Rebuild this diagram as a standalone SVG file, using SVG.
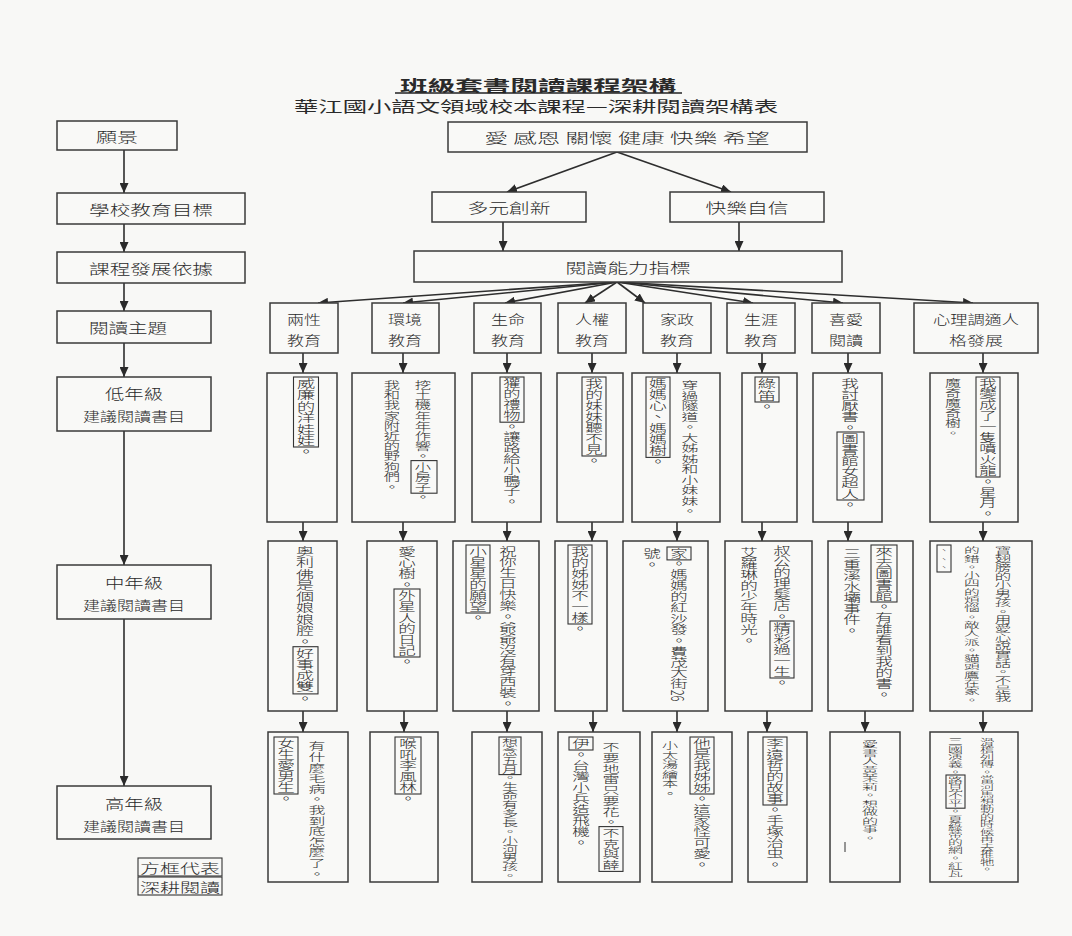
<svg xmlns="http://www.w3.org/2000/svg" width="1072" height="936" viewBox="0 0 1072 936">
<style>
.bg{fill:#f8f8f6}
.b{fill:#f9f9f7;stroke:#3a3a3a;stroke-width:1.5}
.t{fill:none;stroke:#333;stroke-width:1.1}
.h{font-family:"Noto Sans CJK TC","Noto Sans CJK SC",sans-serif;font-weight:300;fill:#2a2a2a;text-anchor:middle;dominant-baseline:central}
.v{font-family:"Noto Sans CJK TC","Noto Sans CJK SC",sans-serif;font-weight:300;fill:#2a2a2a;writing-mode:vertical-rl}
.c{stroke:#2e2e2e;stroke-width:1.6;fill:none}
</style>
<defs>
<marker id="ah" markerWidth="10" markerHeight="9" refX="10" refY="4.5" orient="auto" markerUnits="userSpaceOnUse"><path d="M0,0 L10,4.5 L0,9 z" fill="#2a2a2a"/></marker>
</defs>
<rect class="bg" x="0" y="0" width="1072" height="936"/>

<g id="title">
<text class="h" x="538" y="84" font-size="15" style="font-weight:bold" textLength="276" lengthAdjust="spacingAndGlyphs">班級套書閱讀課程架構</text>
<line x1="395" y1="93" x2="682" y2="93" stroke="#222" stroke-width="1.3"/>
<text class="h" x="536" y="105" font-size="15" style="font-weight:400" textLength="484" lengthAdjust="spacingAndGlyphs">華江國小語文領域校本課程—深耕閱讀架構表</text>
</g>

<g id="connectors">
<line class="c" x1="124" y1="150" x2="124" y2="193" marker-end="url(#ah)"/>
<line class="c" x1="124" y1="224" x2="124" y2="252" marker-end="url(#ah)"/>
<line class="c" x1="124" y1="283" x2="124" y2="311" marker-end="url(#ah)"/>
<line class="c" x1="124" y1="343" x2="124" y2="377" marker-end="url(#ah)"/>
<line class="c" x1="124" y1="431" x2="124" y2="565" marker-end="url(#ah)"/>
<line class="c" x1="124" y1="619" x2="124" y2="786" marker-end="url(#ah)"/>
<line class="c" x1="617" y1="152" x2="507" y2="192" marker-end="url(#ah)"/>
<line class="c" x1="617" y1="152" x2="731" y2="192" marker-end="url(#ah)"/>
<line class="c" x1="503" y1="222" x2="503" y2="251" marker-end="url(#ah)"/>
<line class="c" x1="739" y1="222" x2="739" y2="251" marker-end="url(#ah)"/>
<line class="c" x1="617" y1="282" x2="318" y2="303" marker-end="url(#ah)"/>
<line class="c" x1="617" y1="282" x2="403" y2="303" marker-end="url(#ah)"/>
<line class="c" x1="617" y1="282" x2="505" y2="303" marker-end="url(#ah)"/>
<line class="c" x1="617" y1="282" x2="585" y2="303" marker-end="url(#ah)"/>
<line class="c" x1="617" y1="282" x2="645" y2="303" marker-end="url(#ah)"/>
<line class="c" x1="617" y1="282" x2="753" y2="303" marker-end="url(#ah)"/>
<line class="c" x1="617" y1="282" x2="843" y2="303" marker-end="url(#ah)"/>
<line class="c" x1="617" y1="282" x2="973" y2="303" marker-end="url(#ah)"/>
<line class="c" x1="303" y1="353" x2="303" y2="373" marker-end="url(#ah)"/>
<line class="c" x1="403" y1="353" x2="403" y2="373" marker-end="url(#ah)"/>
<line class="c" x1="507" y1="353" x2="507" y2="373" marker-end="url(#ah)"/>
<line class="c" x1="592" y1="353" x2="592" y2="373" marker-end="url(#ah)"/>
<line class="c" x1="677" y1="353" x2="677" y2="373" marker-end="url(#ah)"/>
<line class="c" x1="762" y1="353" x2="762" y2="373" marker-end="url(#ah)"/>
<line class="c" x1="848" y1="353" x2="848" y2="373" marker-end="url(#ah)"/>
<line class="c" x1="983" y1="353" x2="983" y2="373" marker-end="url(#ah)"/>
<line class="c" x1="303" y1="522" x2="303" y2="541" marker-end="url(#ah)"/>
<line class="c" x1="403" y1="522" x2="403" y2="541" marker-end="url(#ah)"/>
<line class="c" x1="507" y1="522" x2="507" y2="541" marker-end="url(#ah)"/>
<line class="c" x1="592" y1="522" x2="592" y2="541" marker-end="url(#ah)"/>
<line class="c" x1="677" y1="522" x2="677" y2="541" marker-end="url(#ah)"/>
<line class="c" x1="762" y1="522" x2="762" y2="541" marker-end="url(#ah)"/>
<line class="c" x1="848" y1="522" x2="848" y2="541" marker-end="url(#ah)"/>
<line class="c" x1="983" y1="522" x2="983" y2="541" marker-end="url(#ah)"/>
<line class="c" x1="303" y1="711" x2="303" y2="732" marker-end="url(#ah)"/>
<line class="c" x1="404" y1="711" x2="404" y2="732" marker-end="url(#ah)"/>
<line class="c" x1="507" y1="711" x2="507" y2="732" marker-end="url(#ah)"/>
<line class="c" x1="593" y1="711" x2="593" y2="732" marker-end="url(#ah)"/>
<line class="c" x1="677" y1="711" x2="677" y2="732" marker-end="url(#ah)"/>
<line class="c" x1="767" y1="711" x2="767" y2="732" marker-end="url(#ah)"/>
<line class="c" x1="865" y1="711" x2="865" y2="732" marker-end="url(#ah)"/>
<line class="c" x1="983" y1="711" x2="983" y2="732" marker-end="url(#ah)"/>
</g>

<g id="n-vision"><rect class="b" x="57" y="121" width="120" height="29"/><text class="h" x="117" y="136" font-size="14" textLength="42" lengthAdjust="spacingAndGlyphs">願景</text></g>
<g id="n-school"><rect class="b" x="57" y="193" width="188" height="31"/><text class="h" x="151" y="209" font-size="14" textLength="124" lengthAdjust="spacingAndGlyphs">學校教育目標</text></g>
<g id="n-basis"><rect class="b" x="57" y="252" width="188" height="31"/><text class="h" x="151" y="268" font-size="14" textLength="124" lengthAdjust="spacingAndGlyphs">課程發展依據</text></g>
<g id="n-theme"><rect class="b" x="57" y="311" width="154" height="32"/><text class="h" x="128" y="327" font-size="14" textLength="78" lengthAdjust="spacingAndGlyphs">閱讀主題</text></g>
<g id="n-low"><rect class="b" x="57" y="377" width="154" height="54"/><text class="h" x="134" y="393" font-size="14" textLength="58" lengthAdjust="spacingAndGlyphs">低年級</text><text class="h" x="134" y="415" font-size="13" textLength="102" lengthAdjust="spacingAndGlyphs">建議閱讀書目</text></g>
<g id="n-mid"><rect class="b" x="57" y="565" width="154" height="54"/><text class="h" x="134" y="582" font-size="14" textLength="58" lengthAdjust="spacingAndGlyphs">中年級</text><text class="h" x="134" y="604" font-size="13" textLength="102" lengthAdjust="spacingAndGlyphs">建議閱讀書目</text></g>
<g id="n-high"><rect class="b" x="57" y="786" width="154" height="53"/><text class="h" x="134" y="803" font-size="14" textLength="58" lengthAdjust="spacingAndGlyphs">高年級</text><text class="h" x="134" y="825" font-size="13" textLength="102" lengthAdjust="spacingAndGlyphs">建議閱讀書目</text></g>
<g id="n-legend"><rect class="t" x="138" y="858" width="84" height="18"/><rect class="t" x="138" y="877" width="84" height="18"/><text class="h" x="180" y="867" font-size="13" textLength="80" lengthAdjust="spacingAndGlyphs">方框代表</text><text class="h" x="180" y="886" font-size="13" textLength="80" lengthAdjust="spacingAndGlyphs">深耕閱讀</text></g>

<g id="n-values"><rect class="b" x="448" y="122" width="359" height="30"/><text class="h" x="627" y="137" font-size="14" textLength="285" lengthAdjust="spacingAndGlyphs">愛 感恩 關懷 健康 快樂 希望</text></g>
<g id="n-innov"><rect class="b" x="432" y="192" width="154" height="30"/><text class="h" x="509" y="207" font-size="14" textLength="83" lengthAdjust="spacingAndGlyphs">多元創新</text></g>
<g id="n-happy"><rect class="b" x="670" y="192" width="154" height="30"/><text class="h" x="747" y="207" font-size="14" textLength="83" lengthAdjust="spacingAndGlyphs">快樂自信</text></g>
<g id="n-index"><rect class="b" x="414" y="251" width="428" height="31"/><text class="h" x="628" y="267" font-size="14" textLength="125" lengthAdjust="spacingAndGlyphs">閱讀能力指標</text></g>

<g id="c-gender"><rect class="b" x="270" y="303" width="68" height="50"/><text class="h" x="304" y="318" font-size="13" textLength="34" lengthAdjust="spacingAndGlyphs">兩性</text><text class="h" x="304" y="339" font-size="13" textLength="34" lengthAdjust="spacingAndGlyphs">教育</text></g>
<g id="c-env"><rect class="b" x="372" y="303" width="67" height="50"/><text class="h" x="405" y="318" font-size="13" textLength="34" lengthAdjust="spacingAndGlyphs">環境</text><text class="h" x="405" y="339" font-size="13" textLength="34" lengthAdjust="spacingAndGlyphs">教育</text></g>
<g id="c-life"><rect class="b" x="474" y="303" width="67" height="50"/><text class="h" x="508" y="318" font-size="13" textLength="34" lengthAdjust="spacingAndGlyphs">生命</text><text class="h" x="508" y="339" font-size="13" textLength="34" lengthAdjust="spacingAndGlyphs">教育</text></g>
<g id="c-rights"><rect class="b" x="558" y="303" width="68" height="50"/><text class="h" x="592" y="318" font-size="13" textLength="34" lengthAdjust="spacingAndGlyphs">人權</text><text class="h" x="592" y="339" font-size="13" textLength="34" lengthAdjust="spacingAndGlyphs">教育</text></g>
<g id="c-home"><rect class="b" x="643" y="303" width="68" height="50"/><text class="h" x="677" y="318" font-size="13" textLength="34" lengthAdjust="spacingAndGlyphs">家政</text><text class="h" x="677" y="339" font-size="13" textLength="34" lengthAdjust="spacingAndGlyphs">教育</text></g>
<g id="c-career"><rect class="b" x="727" y="303" width="68" height="50"/><text class="h" x="761" y="318" font-size="13" textLength="34" lengthAdjust="spacingAndGlyphs">生涯</text><text class="h" x="761" y="339" font-size="13" textLength="34" lengthAdjust="spacingAndGlyphs">教育</text></g>
<g id="c-love"><rect class="b" x="812" y="303" width="68" height="50"/><text class="h" x="846" y="318" font-size="13" textLength="34" lengthAdjust="spacingAndGlyphs">喜愛</text><text class="h" x="846" y="339" font-size="13" textLength="34" lengthAdjust="spacingAndGlyphs">閱讀</text></g>
<g id="c-psy"><rect class="b" x="914" y="303" width="124" height="50"/><text class="h" x="976" y="318" font-size="13" textLength="86" lengthAdjust="spacingAndGlyphs">心理調適人</text><text class="h" x="976" y="339" font-size="13" textLength="54" lengthAdjust="spacingAndGlyphs">格發展</text></g>

<g id="low-1"><rect class="b" x="267" y="373" width="70" height="149"/><rect class="t" x="293.5" y="377" width="25" height="70"/><text class="v" transform="translate(306,378) scale(1.6,1)" font-size="11.4">威廉的洋娃娃。</text></g>
<g id="low-2"><rect class="b" x="352" y="373" width="103" height="149"/><rect class="t" x="411" y="460.6" width="26" height="32.6"/><text class="v" transform="translate(423,380) scale(1.6,1)" font-size="10.2">挖土機年年作響。小房子。</text><text class="v" transform="translate(392,380) scale(1.6,1)" font-size="10.2">我和我家附近的野狗們。</text></g>
<g id="low-3"><rect class="b" x="472" y="373" width="69" height="149"/><rect class="t" x="500" y="377" width="24" height="45.2"/><text class="v" transform="translate(512,378) scale(1.6,1)" font-size="10.8">獾的禮物。讓路給小鴨子。</text></g>
<g id="low-4"><rect class="b" x="557" y="373" width="66" height="149"/><rect class="t" x="582" y="377" width="24" height="79"/><text class="v" transform="translate(594,378) scale(1.6,1)" font-size="11">我的妹妹聽不見。</text></g>
<g id="low-5"><rect class="b" x="632" y="373" width="88" height="149"/><rect class="t" x="646" y="377" width="24" height="80.4"/><text class="v" transform="translate(690,380) scale(1.6,1)" font-size="10.5">穿過隧道。大姊姊和小妹妹。</text><text class="v" transform="translate(658,378) scale(1.6,1)" font-size="11.2">媽媽心、媽媽樹。</text></g>
<g id="low-6"><rect class="b" x="742" y="373" width="55" height="149"/><rect class="t" x="755" y="377" width="24" height="25"/><text class="v" transform="translate(767,378) scale(1.6,1)" font-size="11.5">綠笛。</text></g>
<g id="low-7"><rect class="b" x="813" y="373" width="69" height="149"/><rect class="t" x="837" y="432" width="27" height="68"/><text class="v" transform="translate(850,378) scale(1.6,1)" font-size="11">我討厭書。圖書館女超人。</text></g>
<g id="low-8"><rect class="b" x="930" y="373" width="88" height="149"/><rect class="t" x="976" y="377" width="24" height="100"/><text class="v" transform="translate(988,378) scale(1.6,1)" font-size="10.9">我變成了一隻噴火龍。星月。</text><text class="v" transform="translate(953,378) scale(1.6,1)" font-size="10">魔奇魔奇樹。</text></g>

<g id="mid-1"><rect class="b" x="268" y="541" width="69" height="170"/><rect class="t" x="293" y="646.7" width="25" height="47.2"/><text class="v" transform="translate(305,546) scale(1.6,1)" font-size="11.3">奧利佛是個娘娘腔。好事成雙。</text></g>
<g id="mid-2"><rect class="b" x="367" y="541" width="70" height="170"/><rect class="t" x="394" y="589" width="26" height="68"/><text class="v" transform="translate(407,546) scale(1.6,1)" font-size="11">愛心樹。外星人的日記。</text></g>
<g id="mid-3"><rect class="b" x="453" y="541" width="86" height="170"/><rect class="t" x="466" y="545" width="24" height="68"/><text class="v" transform="translate(508,546) scale(1.6,1)" font-size="10.9">祝你生日快樂。爺爺沒有穿西裝。</text><text class="v" transform="translate(478,546) scale(1.6,1)" font-size="11">小星星的願望。</text></g>
<g id="mid-4"><rect class="b" x="555" y="541" width="52" height="170"/><rect class="t" x="568" y="545" width="24" height="79"/><text class="v" transform="translate(580,546) scale(1.6,1)" font-size="11">我的姊姊不一樣。</text></g>
<g id="mid-5"><rect class="b" x="623" y="541" width="85" height="170"/><rect class="t" x="667" y="547" width="24" height="12.9"/><text class="v" transform="translate(679,548) scale(1.6,1)" font-size="10.9">家。媽媽的紅沙發。費茂大街26</text><text class="v" transform="translate(652,548) scale(1.6,1)" font-size="11">號。</text></g>
<g id="mid-6"><rect class="b" x="725" y="541" width="87" height="170"/><rect class="t" x="770" y="621" width="24" height="57"/><text class="v" transform="translate(782,545) scale(1.6,1)" font-size="11">叔公的理髮店。精彩過一生。</text><text class="v" transform="translate(749,547) scale(1.6,1)" font-size="11">艾羅琳的少年時光。</text></g>
<g id="mid-7"><rect class="b" x="828" y="541" width="85" height="170"/><rect class="t" x="871" y="545" width="26" height="57"/><text class="v" transform="translate(884,546) scale(1.6,1)" font-size="11">來去圖書館。有誰看到我的書。</text><text class="v" transform="translate(852,548) scale(1.6,1)" font-size="11">三重溪水壩事件。</text></g>
<g id="mid-8"><rect class="b" x="930" y="541" width="102" height="170"/><rect class="t" x="937" y="545" width="14" height="27"/><text class="v" transform="translate(1003,546) scale(1.9,1)" font-size="8.7">寶翅膀的小男孩。用愛心說實話。不是我</text><text class="v" transform="translate(972,546) scale(1.9,1)" font-size="8.3">的錯。小四的煩惱。敵人派。貓頭鷹在家。</text><text class="v" transform="translate(944,546) scale(1.2,1)" font-size="8.5">、、、</text></g>

<g id="high-1"><rect class="b" x="268" y="732" width="80" height="150"/><rect class="t" x="274" y="737" width="24" height="57"/><text class="v" transform="translate(317,741) scale(1.6,1)" font-size="10.6">有什麼毛病。我到底怎麼了。</text><text class="v" transform="translate(286,738) scale(1.6,1)" font-size="11">女生愛男生。</text></g>
<g id="high-2"><rect class="b" x="370" y="732" width="68" height="150"/><rect class="t" x="395" y="737" width="26" height="57"/><text class="v" transform="translate(408,738) scale(1.6,1)" font-size="11">喉吼李風林。</text></g>
<g id="high-3"><rect class="b" x="472" y="732" width="70" height="150"/><rect class="t" x="499" y="737" width="22" height="37.6"/><text class="v" transform="translate(510,738) scale(1.8,1)" font-size="8.9">想念五月。生命有多長。小河男孩。</text></g>
<g id="high-4"><rect class="b" x="558" y="732" width="82" height="150"/><rect class="t" x="599" y="826.6" width="24" height="44.8"/><rect class="t" x="569" y="737" width="24" height="13"/><text class="v" transform="translate(611,742) scale(1.6,1)" font-size="10.7">不要地雷只要花。不克與薛</text><text class="v" transform="translate(581,738) scale(1.6,1)" font-size="11">伊。台灣小兵造飛機。</text></g>
<g id="high-5"><rect class="b" x="652" y="732" width="80" height="150"/><rect class="t" x="690" y="737" width="24" height="57"/><text class="v" transform="translate(702,738) scale(1.6,1)" font-size="11">他是我姊姊。這家怪可愛。</text><text class="v" transform="translate(670,741) scale(1.7,1)" font-size="9.5">小太湯繪本。</text></g>
<g id="high-6"><rect class="b" x="748" y="732" width="59" height="150"/><rect class="t" x="763" y="737" width="24" height="68"/><text class="v" transform="translate(775,738) scale(1.6,1)" font-size="11">李遠哲的故事。手塚治虫。</text></g>
<g id="high-7"><rect class="b" x="830" y="732" width="70" height="150"/><text class="v" transform="translate(870,740) scale(1.9,1)" font-size="8.5">愛書人黃茉莉。想做的事。</text><line x1="845" y1="842" x2="845" y2="852" stroke="#333" stroke-width="1"/></g>
<g id="high-8"><rect class="b" x="930" y="732" width="88" height="150"/><rect class="t" x="946" y="775" width="19" height="33.2"/><text class="v" transform="translate(987,738) scale(1.9,1)" font-size="7.5">滑稽列傳。當河馬想動的時候再去推牠。</text><text class="v" transform="translate(955.5,737) scale(1.9,1)" font-size="7.8">三國演義。路見不平。夏綠蒂的網。紅瓦</text></g>
</svg>
